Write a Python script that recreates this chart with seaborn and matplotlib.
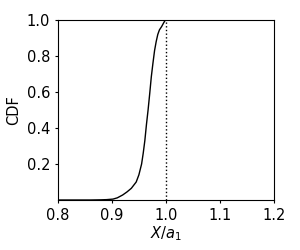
import numpy as np
import pandas as pd
import matplotlib
matplotlib.use("Agg")
import matplotlib.pyplot as plt
import seaborn as sns

# CDF curve
x_ratio = [0.80, 0.86, 0.88, 0.89, 0.902, 0.91, 0.92, 0.928, 0.936, 0.945, 0.950,
           0.955, 0.958, 0.961, 0.964, 0.967, 0.970, 0.973, 0.976, 0.979, 0.982,
           0.985, 0.988, 0.992, 0.996, 0.999, 1.05, 1.20]
cdf = [0.0, 0.0, 0.001, 0.002, 0.005, 0.012, 0.028, 0.045, 0.065, 0.10, 0.14,
       0.20, 0.26, 0.33, 0.42, 0.50, 0.59, 0.685, 0.76, 0.83, 0.88,
       0.92, 0.945, 0.963, 0.985, 1.0, 1.0, 1.0]
x_ticks = [0.8, 0.9, 1.0, 1.1, 1.2]
y_ticks = [0.2, 0.4, 0.6, 0.8, 1.0]
ref_x = 1.0

df = pd.DataFrame({"x": x_ratio, "cdf": cdf})

fig, ax = plt.subplots(figsize=(3, 2.5), dpi=100)
fig.subplots_adjust(left=0.193, right=0.913, top=0.92, bottom=0.2)

sns.lineplot(data=df, x="x", y="cdf", ax=ax, color="black", linewidth=1.0)
ax.axvline(ref_x, color="black", linestyle=":", linewidth=1.0)

ax.set_xlim(0.8, 1.2)
ax.set_ylim(0.0, 1.0)
ax.set_xticks(x_ticks)
ax.set_yticks(y_ticks)
ax.tick_params(labelsize=10.5, length=2)
ax.set_xlabel(r"$X/a_1$", fontsize=10.5, labelpad=1)
ax.set_ylabel("CDF", fontsize=10.5)

plt.savefig("out.png", dpi=100)
plt.close()
